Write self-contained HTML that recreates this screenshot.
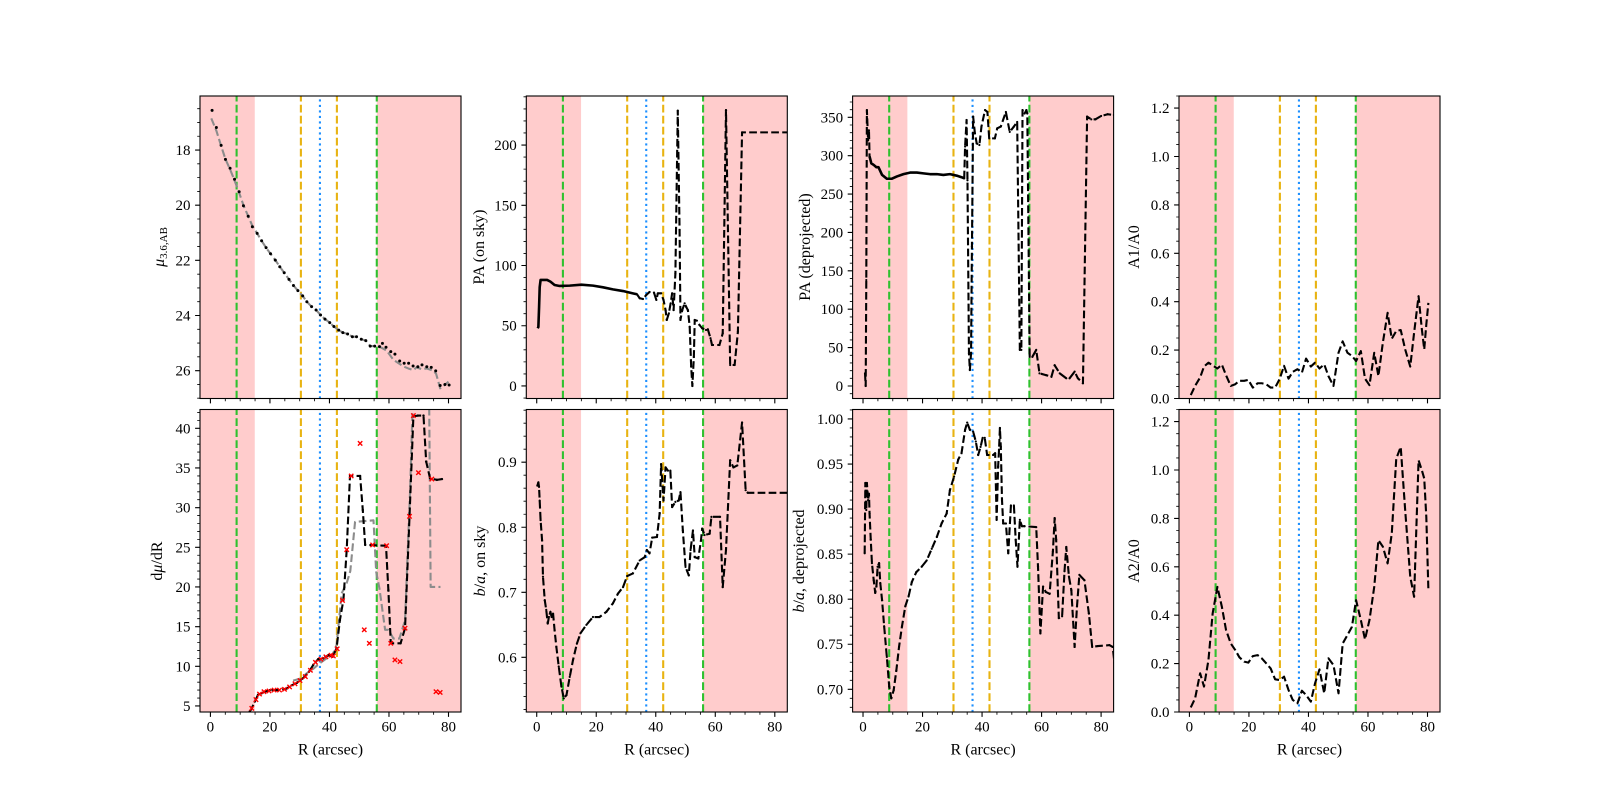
<!DOCTYPE html>
<html><head><meta charset="utf-8">
<style>
html,body{margin:0;padding:0;background:#fff;}
svg{display:block;}
text{font-family:"Liberation Serif","DejaVu Serif",serif;font-size:15px;fill:#000;}
.al{font-size:16px;}
</style></head><body>
<svg id="fig" width="1600" height="800" viewBox="0 0 1600 800" xmlns="http://www.w3.org/2000/svg">
<rect width="1600" height="800" fill="#fff"/>
<g id="plots"></g>
<g id="labels">
<g text-anchor="end">
<text x="190.5" y="155.0">18</text><text x="190.5" y="210.2">20</text><text x="190.5" y="265.3">22</text><text x="190.5" y="320.5">24</text><text x="190.5" y="375.6">26</text>
<text x="516.8" y="391.0">0</text><text x="516.8" y="330.7">50</text><text x="516.8" y="270.5">100</text><text x="516.8" y="210.3">150</text><text x="516.8" y="150.0">200</text>
<text x="843.1" y="391.0">0</text><text x="843.1" y="352.6">50</text><text x="843.1" y="314.2">100</text><text x="843.1" y="275.8">150</text><text x="843.1" y="237.4">200</text><text x="843.1" y="199.1">250</text><text x="843.1" y="160.7">300</text><text x="843.1" y="122.3">350</text>
<text x="1169.5" y="403.5">0.0</text><text x="1169.5" y="355.1">0.2</text><text x="1169.5" y="306.7">0.4</text><text x="1169.5" y="258.3">0.6</text><text x="1169.5" y="209.9">0.8</text><text x="1169.5" y="161.5">1.0</text><text x="1169.5" y="113.1">1.2</text>
<text x="190.5" y="711.0">5</text><text x="190.5" y="671.3">10</text><text x="190.5" y="631.6">15</text><text x="190.5" y="592.0">20</text><text x="190.5" y="552.3">25</text><text x="190.5" y="512.6">30</text><text x="190.5" y="473.0">35</text><text x="190.5" y="433.3">40</text>
<text x="516.8" y="662.4">0.6</text><text x="516.8" y="597.3">0.7</text><text x="516.8" y="532.3">0.8</text><text x="516.8" y="467.2">0.9</text>
<text x="843.1" y="694.3">0.70</text><text x="843.1" y="649.2">0.75</text><text x="843.1" y="604.2">0.80</text><text x="843.1" y="559.1">0.85</text><text x="843.1" y="514.0">0.90</text><text x="843.1" y="469.0">0.95</text><text x="843.1" y="423.9">1.00</text>
<text x="1169.5" y="717.0">0.0</text><text x="1169.5" y="668.6">0.2</text><text x="1169.5" y="620.2">0.4</text><text x="1169.5" y="571.8">0.6</text><text x="1169.5" y="523.4">0.8</text><text x="1169.5" y="475.0">1.0</text><text x="1169.5" y="426.6">1.2</text>
</g>
<g text-anchor="middle">
<text x="210.4" y="731.5">0</text><text x="269.9" y="731.5">20</text><text x="329.5" y="731.5">40</text><text x="389.0" y="731.5">60</text><text x="448.5" y="731.5">80</text>
<text x="536.7" y="731.5">0</text><text x="596.2" y="731.5">20</text><text x="655.8" y="731.5">40</text><text x="715.3" y="731.5">60</text><text x="774.8" y="731.5">80</text>
<text x="863.0" y="731.5">0</text><text x="922.5" y="731.5">20</text><text x="982.1" y="731.5">40</text><text x="1041.6" y="731.5">60</text><text x="1101.1" y="731.5">80</text>
<text x="1189.4" y="731.5">0</text><text x="1248.9" y="731.5">20</text><text x="1308.5" y="731.5">40</text><text x="1368.0" y="731.5">60</text><text x="1427.5" y="731.5">80</text>
<text class="al" x="330.5" y="754.5">R (arcsec)</text><text class="al" x="656.8" y="754.5">R (arcsec)</text><text class="al" x="983.1" y="754.5">R (arcsec)</text><text class="al" x="1309.5" y="754.5">R (arcsec)</text>
<text class="al" transform="translate(164,247) rotate(-90)"><tspan font-style="italic">μ</tspan><tspan font-size="11" dy="3">3.6,AB</tspan></text>
<text class="al" transform="translate(484,247) rotate(-90)">PA (on sky)</text>
<text class="al" transform="translate(810,247) rotate(-90)">PA (deprojected)</text>
<text class="al" transform="translate(1139,247) rotate(-90)">A1/A0</text>
<text class="al" transform="translate(162,561) rotate(-90)">d<tspan font-style="italic">μ</tspan>/dR</text>
<text class="al" transform="translate(485,561) rotate(-90)"><tspan font-style="italic">b</tspan>/<tspan font-style="italic">a</tspan>, on sky</text>
<text class="al" transform="translate(804,561) rotate(-90)"><tspan font-style="italic">b</tspan>/<tspan font-style="italic">a</tspan>, deprojected</text>
<text class="al" transform="translate(1139,561) rotate(-90)">A2/A0</text>
</g>
</g>
</svg>
<script>
(function(){
var NS='http://www.w3.org/2000/svg';
var root=document.getElementById('plots');
var XL=-3.5,XR=84.2,W=261,H=302.5;
var COLS=[200,526.3,852.6,1179],ROWS=[96,409.5];
var DASH='7.7,3.3';
function el(tag,attrs,parent){var e=document.createElementNS(NS,tag);for(var k in attrs)e.setAttribute(k,attrs[k]);(parent||root).appendChild(e);return e;}
var idc=0;
function panel(p){
 var x0=COLS[p.c],y0=ROWS[p.r];
 function X(v){return x0+(v-XL)/(XR-XL)*W;}
 function Y(v){var f=(v-p.ylo)/(p.yhi-p.ylo);return p.inv? y0+f*H : y0+H-f*H;}
 var id='cp'+(idc++);
 var cp=el('clipPath',{id:id});
 el('rect',{x:x0,y:y0,width:W,height:H},cp);
 var g=el('g',{'clip-path':'url(#'+id+')'});
 el('rect',{x:x0,y:y0,width:X(14.9)-x0,height:H,fill:'#ffcccc'},g);
 el('rect',{x:X(55.9),y:y0,width:x0+W-X(55.9),height:H,fill:'#ffcccc'},g);
 var vl=[[8.8,'#2fc12f',DASH],[55.9,'#2fc12f',DASH],[30.4,'#e8b312',DASH],[42.5,'#e8b312',DASH],[36.8,'#1e90ff','2.1,3.4']];
 vl.forEach(function(v){var xx=X(v[0]);el('line',{x1:xx,y1:y0+H,x2:xx,y2:y0,stroke:v[1],'stroke-width':2.1,'stroke-dasharray':v[2]},g);});
 p.series.forEach(function(s){
   var d=s.pts.map(function(q,i){return (i?'L':'M')+X(q[0]).toFixed(2)+' '+Y(q[1]).toFixed(2);}).join('');
   if(s.line!==false){var a={d:d,fill:'none',stroke:s.color||'#000','stroke-width':s.w||2.1,'stroke-linejoin':'round'};if(s.dash)a['stroke-dasharray']=s.dash;el('path',a,g);}
   if(s.dots){s.pts.forEach(function(q){el('circle',{cx:X(q[0]).toFixed(2),cy:Y(q[1]).toFixed(2),r:s.dots,fill:s.dotColor||'#000'},g);});}
   if(s.xs){var dd='';s.pts.forEach(function(q){var a=X(q[0]),b=Y(q[1]),r=2.2;dd+='M'+(a-r).toFixed(2)+' '+(b-r).toFixed(2)+'L'+(a+r).toFixed(2)+' '+(b+r).toFixed(2)+'M'+(a-r).toFixed(2)+' '+(b+r).toFixed(2)+'L'+(a+r).toFixed(2)+' '+(b-r).toFixed(2);});el('path',{d:dd,stroke:'#ff0000','stroke-width':1.4,fill:'none'},g);}
 });
 el('rect',{x:x0,y:y0,width:W,height:H,fill:'none',stroke:'#000','stroke-width':1.1});
 var tM='',tm='';
 for(var v=0;v<=XR+1e-9;v+=5){var xx=X(v).toFixed(2);if(v%20===0)tM+='M'+xx+' '+(y0+H)+'v4.9';else tm+='M'+xx+' '+(y0+H)+'v2.8';}
 var lo=Math.min(p.ylo,p.yhi),hi=Math.max(p.ylo,p.yhi);
 var st=Math.ceil(lo/p.ymn-1e-9);
 for(var k=st;k*p.ymn<=hi+1e-9;k++){var yv=k*p.ymn;var yy=Y(yv).toFixed(2);var r=yv/p.ymj;if(Math.abs(r-Math.round(r))<1e-6)tM+='M'+x0+' '+yy+'h-4.9';else tm+='M'+x0+' '+yy+'h-2.8';}
 el('path',{d:tM,stroke:'#000','stroke-width':1.1,fill:'none'});
 el('path',{d:tm,stroke:'#000','stroke-width':0.85,fill:'none'});
}
var p1dots=[[0.56,16.56],[2.0,17.18],[3.6,17.83],[5.05,18.34],[6.6,18.66],[8.1,19.06],[9.65,19.51],[11.1,20.02],[12.7,20.40],[14.1,20.78],[15.7,21.02],[17.2,21.29],[18.7,21.54],[20.2,21.76],[21.8,21.99],[23.3,22.23],[24.8,22.45],[26.4,22.69],[27.9,22.91],[29.4,23.10],[31.0,23.29],[32.4,23.50],[34.0,23.68],[35.5,23.80],[37.0,23.98],[38.5,24.13],[40.1,24.26],[41.5,24.40],[43.1,24.53],[44.5,24.62],[46.1,24.67],[47.7,24.77],[49.1,24.77],[50.7,24.86],[52.2,24.91],[53.7,25.11],[55.2,25.11],[56.8,25.13],[57.8,25.01],[59.0,25.15],[60.6,25.31],[62.0,25.40],[63.6,25.65],[65.1,25.73],[66.6,25.73],[68.1,25.83],[69.7,25.86],[71.1,25.79],[72.7,25.86],[74.2,25.88],[75.7,26.01],[77.2,26.54],[78.8,26.50],[80.2,26.52]];
var p1grey=[[0.3,16.85],[2,17.3],[3.6,17.85],[5.05,18.33],[6.6,18.7],[8.1,19.1],[9.65,19.55],[11.1,20.0],[12.7,20.4],[14.1,20.75]].concat(p1dots.slice(10,38)).concat([[59.2,25.27],[61.5,25.61],[64.9,25.85],[66.5,25.92],[68.2,25.98],[69.3,25.88],[71.0,25.95],[72.7,25.92],[74.4,25.98],[75.8,26.1],[77.2,26.64],[78.5,26.54],[80.0,26.4]]);
panel({c:0,r:0,ylo:16.04,yhi:27.01,inv:true,ymj:2,ymn:0.5,series:[
 {pts:p1grey,color:'#8c8c8c',dash:DASH,w:2.1},
 {pts:p1dots,line:false,dots:1.5}
]});
var p2s=[[0.34,47.9],[0.56,49],[0.8,66],[1.0,82],[1.3,88],[2.1,88],[3.5,88],[4.6,86.6],[6.0,83.8],[7.7,83],[11.1,83.3],[15,84.1],[18.9,83.3],[22.3,81.9],[25.6,80.2],[29.0,78.8],[32.3,76.9],[33.7,76.1]];
var p2d=[[33.7,76.1],[34.6,72.8],[35.7,72.2],[36.8,75.5],[37.9,78],[39.4,77.5],[40.2,71.4],[40.7,76.9],[41.8,76.9],[42.6,71.4],[43.3,63],[43.7,54.8],[44.4,60.3],[45.0,68.6],[45.5,76.9],[46.0,63],[46.6,93.5],[47.4,228.5],[48.0,129.5],[48.3,54.8],[48.9,63],[49.7,68.6],[50.2,65.8],[50.8,63],[51.4,49.2],[51.9,16],[52.3,0],[52.8,24],[53.1,54.8],[53.8,54.2],[54.7,50.6],[55.6,47.9],[56.9,46.5],[57.5,47],[58.4,39.6],[58.9,34],[61.4,34],[62.5,43.7],[63.6,229],[65.0,17.4],[66.5,17.4],[67.6,45],[69.0,210.5],[84.5,210.5]];
panel({c:1,r:0,ylo:-10.4,yhi:240.7,ymj:50,ymn:10,series:[
 {pts:p2s,w:2.6},
 {pts:p2d,dash:DASH,dots:1.1}
]});
var p3a=[[0.67,16.5],[0.9,0],[1.1,138],[1.3,359.5],[1.7,320],[2.0,333],[2.2,299]];
var p3s=[[2.2,299],[2.8,290],[3.6,288],[4.5,285],[5.2,285],[6.4,275],[8.0,270],[9.7,270],[11.4,273],[13.6,276],[15.8,278],[18.1,278],[20.3,277],[22.5,276],[24.8,276],[27.0,275],[29.2,276],[31.5,274],[33.1,272],[34.0,270.5]];
var p3d=[[34.0,270.5],[34.3,312],[34.8,346.5],[35.1,268],[35.6,42.6],[35.9,20.8],[36.3,42.6],[36.6,181.5],[37.0,351],[37.6,329],[38.2,316],[39.1,314],[39.8,338],[41.0,359.5],[41.8,357],[42.4,322.6],[44.3,322.6],[45.1,335.7],[46.3,338],[48.0,357],[49.3,331],[50.7,338],[51.8,344],[52.7,47],[53.2,47],[53.6,359.5],[54.3,355],[54.9,359.5],[55.2,355],[56.0,38],[56.9,38],[58.2,47],[59.3,16.5],[61.6,14],[63.3,12],[64.4,27],[66.1,16.5],[68.3,10],[69.4,10],[71.1,18.7],[72.2,10],[73.9,3.5],[75.3,351],[76.7,347.4],[78.1,347.4],[80.0,351.7],[82.2,354],[84.3,353]];
panel({c:2,r:0,ylo:-16.3,yhi:377.8,ymj:50,ymn:10,series:[
 {pts:p3a,dash:DASH,dots:1.1},
 {pts:p3s,w:2.6},
 {pts:p3d,dash:DASH,dots:1.1}
]});
var p4=[[0.45,0.014],[1.9,0.052],[3.6,0.087],[4.9,0.132],[6.4,0.148],[7.8,0.137],[9.4,0.124],[10.9,0.140],[12.3,0.096],[13.9,0.052],[15.4,0.059],[16.8,0.073],[18.4,0.073],[19.8,0.077],[21.3,0.045],[22.9,0.063],[24.3,0.063],[25.8,0.059],[27.3,0.045],[28.8,0.045],[30.3,0.080],[31.8,0.135],[33.3,0.082],[34.7,0.110],[36.3,0.121],[37.8,0.107],[39.2,0.165],[40.8,0.132],[42.2,0.148],[43.7,0.124],[45.3,0.141],[46.7,0.093],[48.4,0.052],[50.1,0.189],[51.5,0.236],[53.1,0.189],[54.6,0.176],[56.0,0.155],[57.6,0.196],[59.0,0.082],[60.5,0.055],[62.1,0.189],[63.5,0.093],[65.0,0.231],[66.6,0.354],[68.0,0.247],[69.5,0.279],[71.0,0.283],[72.5,0.203],[74.2,0.132],[75.5,0.272],[77.0,0.423],[78.1,0.286],[78.9,0.203],[79.6,0.306],[80.3,0.395]];
panel({c:3,r:0,ylo:0,yhi:1.25,ymj:0.2,ymn:0.05,series:[{pts:p4,dash:DASH}]});
var p5b=[[13.2,4.3],[13.9,4.7],[14.9,5.55],[16.0,6.4],[17.2,6.6],[18.3,6.8],[20.0,7.0],[22.2,7.0],[24.5,7.1],[25.6,7.2],[27.3,7.6],[29.0,7.9],[30.4,8.3],[31.8,8.7],[33.1,9.3],[34.6,10.2],[36.2,10.9],[37.9,11.0],[39.6,11.4],[41.1,11.2],[42.4,12.3],[43.5,15.8],[44.7,18.4],[45.8,24.7],[46.9,34.0],[50.3,34.0],[51.2,29.7],[52.0,25.3],[59.0,25.2],[59.8,19.6],[60.6,12.9],[63.9,12.9],[65.4,14.8],[66.9,28.9],[68.2,41.5],[69.7,41.6],[71.6,41.6],[72.5,35.8],[73.8,33.7],[76.1,33.5],[77.8,33.6]];
var p5g=[[27.8,8.2],[30.6,8.5],[32.3,9.1],[34.6,9.7],[36.8,10.4],[39.0,11.0],[41.2,11.6],[42.4,12.7],[44.1,19.2],[45.8,20.5],[47.0,22],[48.6,28.2],[54.8,28.4],[55.7,21.9],[56.8,19.8],[58.7,14.6],[59.8,14.6],[61.5,13.5],[63.5,13.5],[65.4,15.8],[67.1,32.2],[68.0,43.5],[73.5,43.5],[74.0,20.0],[77.3,20.0]];
var p5x=[[13.9,4.7],[15.3,5.8],[16.5,6.5],[18.0,6.8],[19.7,6.9],[21.4,7.0],[23.2,7.0],[24.9,7.1],[26.6,7.4],[28.4,7.8],[30.1,8.2],[31.9,8.7],[33.6,9.5],[35.3,10.5],[37.1,10.9],[38.8,11.2],[40.5,11.4],[41.3,11.3],[42.6,12.2],[44.4,18.3],[45.8,24.7],[47.3,34.0],[50.3,38.1],[51.7,14.6],[53.4,12.9],[54.5,25.3],[59.2,25.2],[60.6,12.9],[62.0,10.8],[63.7,10.6],[65.4,14.8],[66.9,28.9],[68.2,41.6],[69.9,34.4],[74.4,33.6],[75.8,6.8],[77.2,6.7]];
panel({c:0,r:1,ylo:4.24,yhi:42.37,ymj:5,ymn:1,series:[
 {pts:p5g,color:'#8c8c8c',dash:DASH},
 {pts:p5b,dash:DASH,dots:1.2},
 {pts:p5x,line:false,xs:true}
]});
var p6=[[0.22,0.864],[0.56,0.869],[0.78,0.862],[1.0,0.841],[1.3,0.811],[1.8,0.780],[2.1,0.724],[2.7,0.688],[3.2,0.673],[3.7,0.652],[4.1,0.662],[4.6,0.670],[5.0,0.662],[5.5,0.667],[6.0,0.642],[6.6,0.616],[7.4,0.586],[8.3,0.555],[9.1,0.537],[10.0,0.542],[11.1,0.570],[12.2,0.596],[13.5,0.621],[14.7,0.637],[16.7,0.650],[18.9,0.662],[21.1,0.662],[23.4,0.670],[25.6,0.683],[27.3,0.698],[29.0,0.708],[30.4,0.725],[32.3,0.729],[34.6,0.749],[36.3,0.754],[37.0,0.765],[37.9,0.760],[38.8,0.784],[40.4,0.785],[41.3,0.821],[41.8,0.897],[42.6,0.841],[43.3,0.892],[44.1,0.887],[44.9,0.887],[45.5,0.831],[46.6,0.839],[47.7,0.841],[48.3,0.854],[49.1,0.795],[50.0,0.739],[51.1,0.726],[51.7,0.765],[52.5,0.795],[53.1,0.754],[54.3,0.752],[55.2,0.780],[55.6,0.798],[56.4,0.788],[58.1,0.790],[58.7,0.816],[61.6,0.816],[62.5,0.708],[63.6,0.765],[65.0,0.903],[66.1,0.892],[67.4,0.895],[69.0,0.961],[70.2,0.857],[70.9,0.853],[84.5,0.853]];
panel({c:1,r:1,ylo:0.516,yhi:0.981,ymj:0.1,ymn:0.02,series:[{pts:p6,dash:DASH,dots:1.1}]});
var p7=[[0.56,0.851],[0.78,0.929],[1.1,0.899],[1.3,0.929],[1.7,0.910],[2.0,0.917],[2.2,0.895],[2.6,0.866],[3.0,0.840],[3.6,0.821],[4.1,0.807],[4.5,0.814],[4.9,0.836],[5.4,0.840],[5.8,0.818],[6.4,0.799],[7.1,0.770],[8.0,0.736],[8.8,0.703],[9.5,0.690],[10.3,0.699],[11.2,0.721],[12.1,0.747],[13.1,0.770],[14.2,0.792],[15.3,0.803],[16.4,0.819],[17.9,0.830],[19.7,0.836],[21.4,0.843],[23.1,0.856],[24.8,0.869],[26.4,0.884],[28.1,0.895],[29.2,0.921],[30.6,0.936],[32.0,0.955],[33.1,0.962],[34.3,0.988],[35.0,0.996],[35.9,0.988],[37.0,0.986],[37.9,0.975],[38.7,0.960],[39.5,0.969],[40.2,0.979],[40.9,0.979],[41.7,0.960],[43.7,0.960],[44.4,0.962],[44.9,0.888],[45.4,0.947],[45.7,0.966],[46.0,0.990],[46.3,0.969],[46.7,0.910],[47.1,0.884],[48.0,0.884],[48.8,0.851],[49.7,0.904],[50.7,0.904],[51.3,0.866],[51.9,0.836],[52.7,0.888],[53.4,0.881],[54.3,0.881],[58.2,0.880],[58.8,0.836],[59.6,0.762],[60.5,0.814],[61.4,0.808],[62.7,0.806],[63.8,0.853],[64.4,0.890],[64.9,0.866],[65.8,0.779],[66.9,0.781],[67.7,0.831],[68.3,0.858],[69.2,0.825],[70.0,0.810],[71.1,0.747],[71.9,0.792],[72.7,0.827],[74.4,0.821],[75.9,0.784],[77.0,0.747],[78.9,0.748],[82.8,0.749],[83.9,0.747],[84.5,0.729]];
panel({c:2,r:1,ylo:0.6748,yhi:1.0105,ymj:0.05,ymn:0.01,series:[{pts:p7,dash:DASH,dots:1.1}]});
var p8=[[0.45,0.019],[1.9,0.056],[3.6,0.160],[4.9,0.105],[6.4,0.215],[7.8,0.407],[9.4,0.517],[10.9,0.435],[12.3,0.339],[13.9,0.283],[15.4,0.256],[16.8,0.226],[18.4,0.208],[19.8,0.204],[21.3,0.231],[22.9,0.235],[24.3,0.222],[25.8,0.201],[27.3,0.180],[28.8,0.135],[30.3,0.132],[31.8,0.146],[33.3,0.091],[34.7,0.050],[36.3,0.036],[37.8,0.088],[39.2,0.070],[40.8,0.043],[42.2,0.118],[43.7,0.176],[45.3,0.077],[46.7,0.222],[48.4,0.194],[50.1,0.077],[51.5,0.283],[53.1,0.318],[54.6,0.352],[56.0,0.462],[57.6,0.380],[59.0,0.300],[60.5,0.380],[62.1,0.517],[63.5,0.710],[65.0,0.683],[66.6,0.614],[68.0,0.738],[69.5,1.047],[71.0,1.095],[72.5,0.834],[74.2,0.559],[75.5,0.476],[77.0,1.040],[78.1,0.999],[78.9,0.965],[79.6,0.806],[80.3,0.504]];
panel({c:3,r:1,ylo:0,yhi:1.25,ymj:0.2,ymn:0.05,series:[{pts:p8,dash:DASH}]});
})();
</script>
</body></html>
